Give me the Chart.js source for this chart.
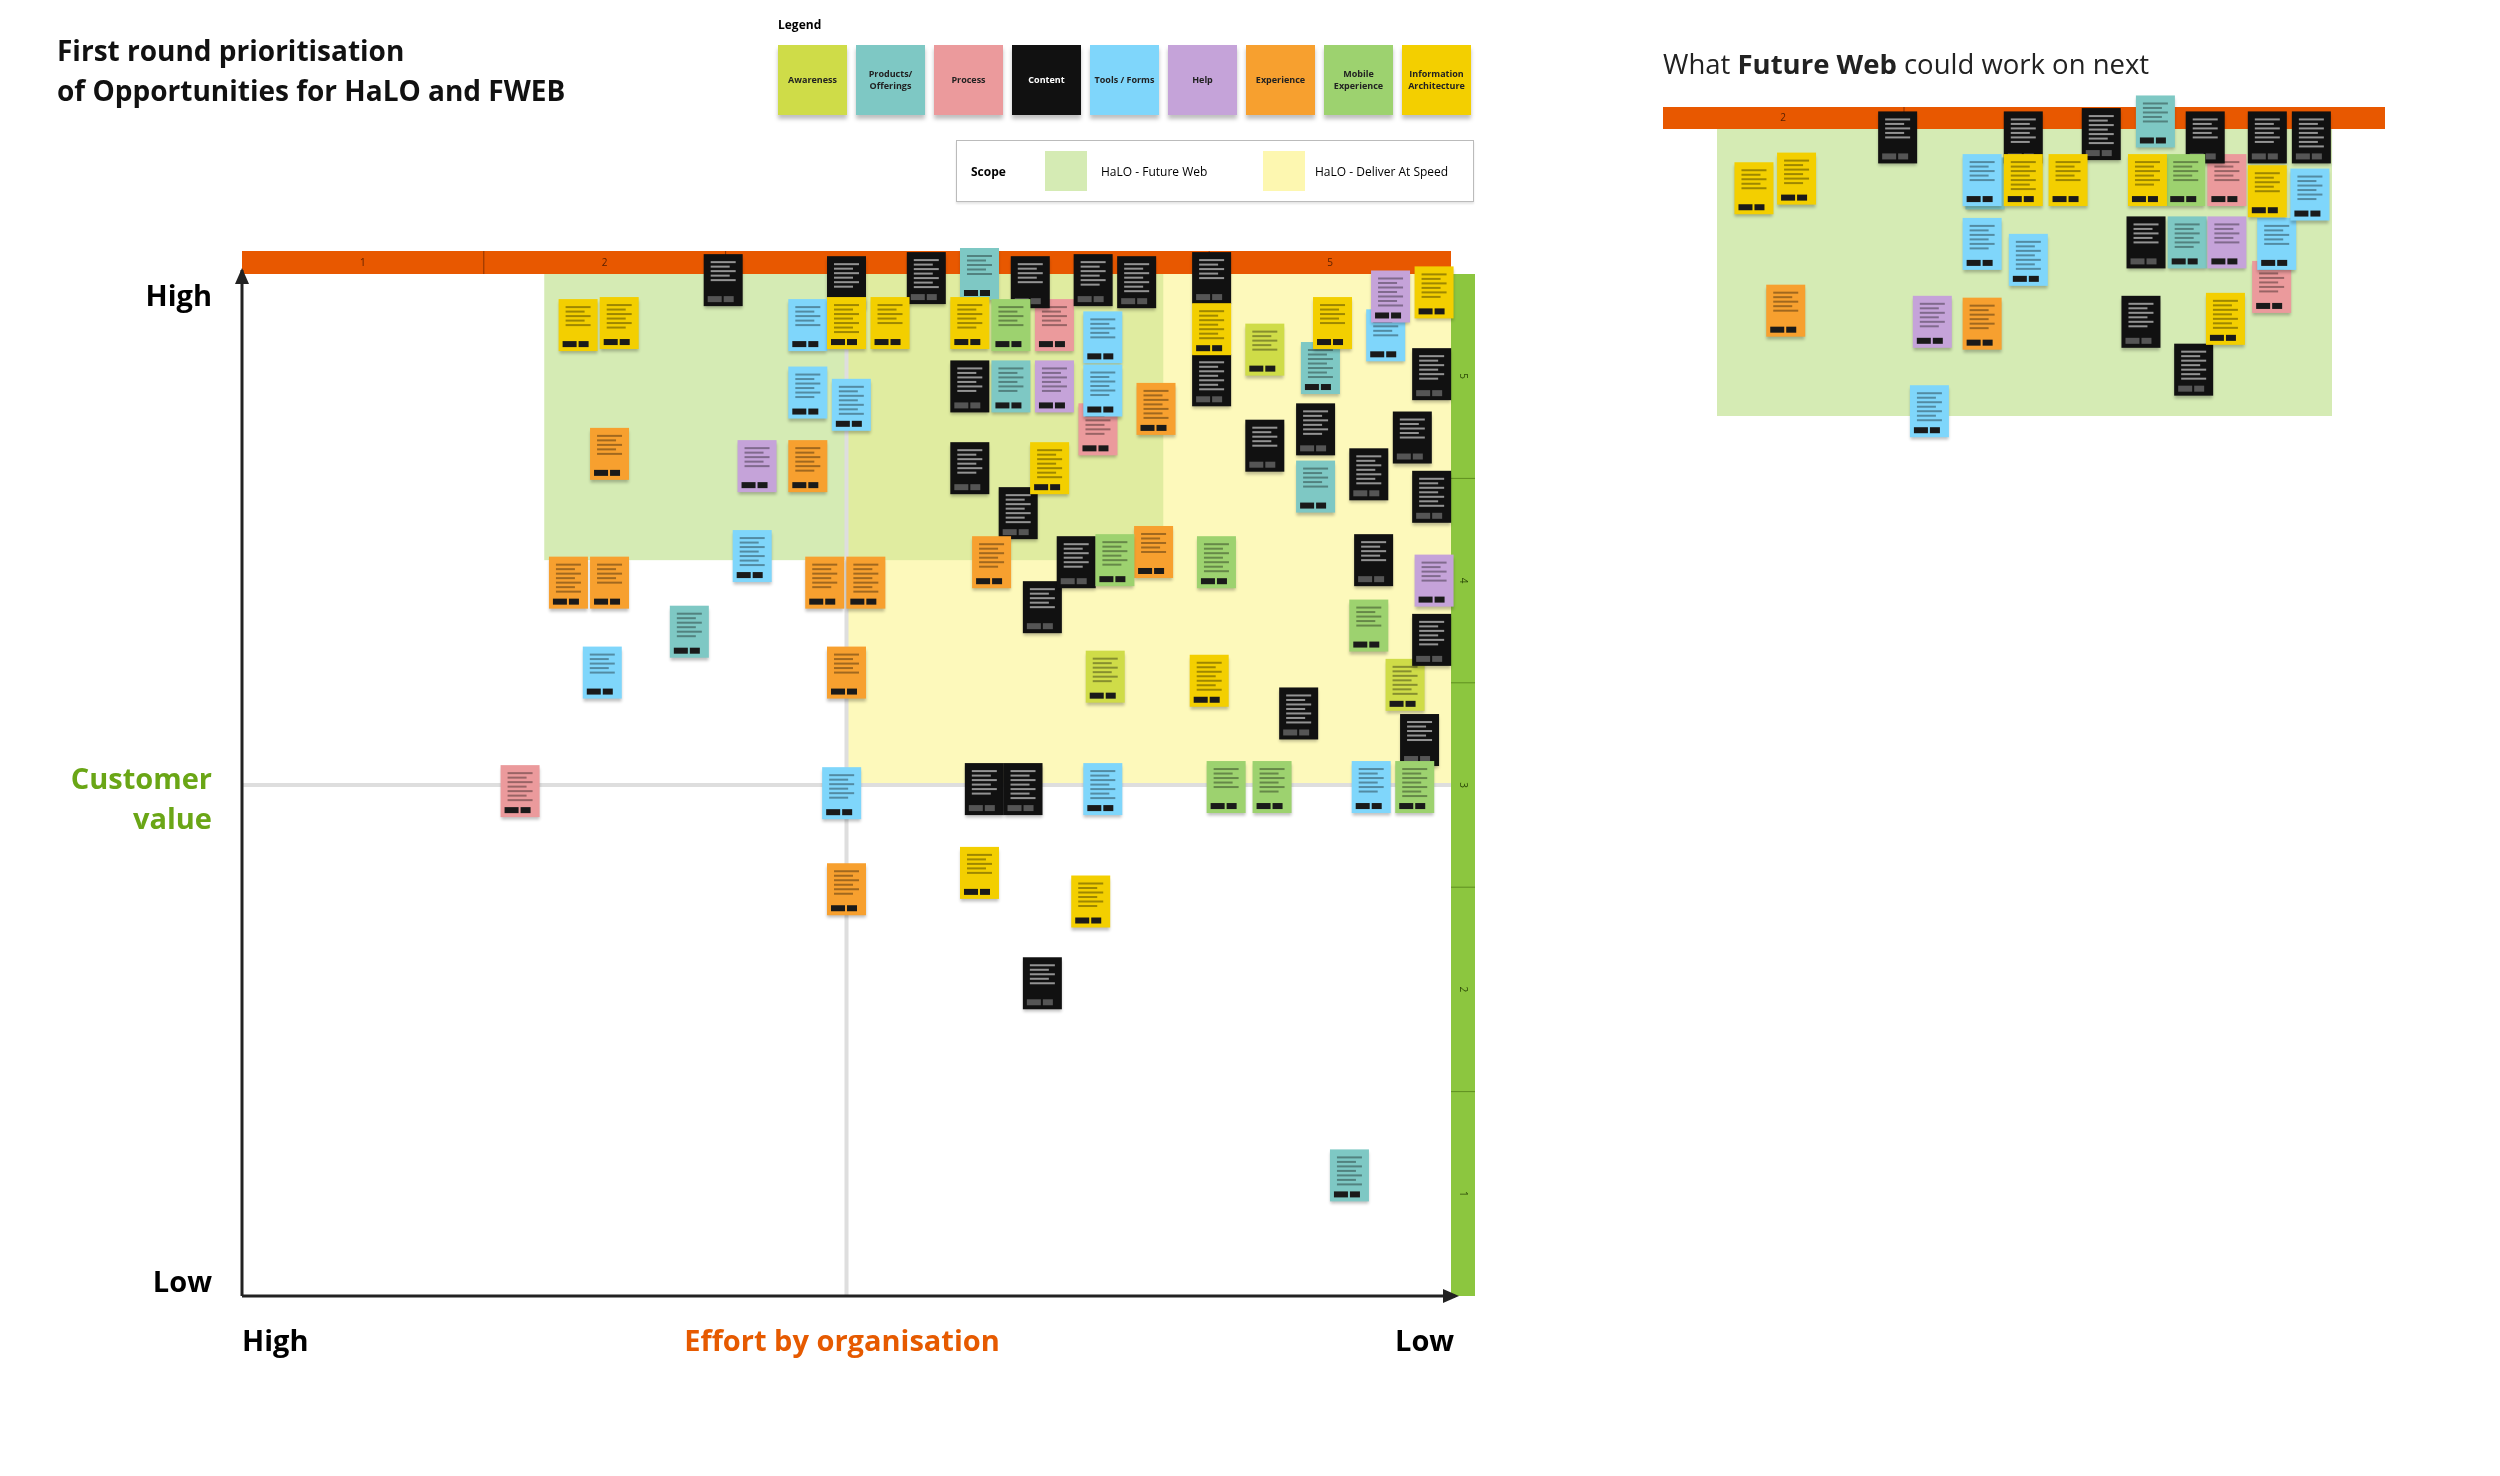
<!DOCTYPE html>
<html>
<head>
<meta charset="utf-8">
<script src="https://cdn.jsdelivr.net/npm/chart.js@4.4.1/dist/chart.umd.min.js"></script>
<style>
  body { margin: 0; background: #fff; font-family: "Open Sans", sans-serif; width: 2500px; height: 1476px; position: relative; overflow: hidden; }
  .abs { position: absolute; }
  #main { position: absolute; left: 0; top: 0; }
  #next { position: absolute; left: 1600px; top: 0; }
  .title { left: 57px; top: 30px; font-size: 28px; font-weight: 700; line-height: 40px; color: #111; }
  .sw { width: 69px; height: 70px; top: 45px; font-size: 9px; font-weight: 700; display: flex; align-items: center; justify-content: center; text-align: center; line-height: 12px; box-shadow: 0 4px 4px rgba(0,0,0,0.25); }
  .big { font-size: 29px; font-weight: 700; }
</style>
</head>
<body>
<canvas id="main" width="1600" height="1476"></canvas>
<canvas id="next" width="900" height="1476"></canvas>

<div class="abs title">First round prioritisation<br>of Opportunities for HaLO and FWEB</div>
<div class="abs" style="left:778px;top:16px;font-size:12px;font-weight:700;">Legend</div>
<div id="legend"></div>
<div class="abs" style="left:956px;top:140px;width:516px;height:60px;border:1px solid #bbb;box-shadow:0 2px 2px rgba(0,0,0,0.1);font-size:12px;">
  <span class="abs" style="left:14px;top:22px;font-weight:700;">Scope</span>
  <span class="abs" style="left:88px;top:10px;width:42px;height:40px;background:#d5ebb4;"></span>
  <span class="abs" style="left:144px;top:22px;">HaLO - Future Web</span>
  <span class="abs" style="left:306px;top:10px;width:42px;height:40px;background:#fdf7b0;"></span>
  <span class="abs" style="left:358px;top:22px;">HaLO - Deliver At Speed</span>
</div>

<div class="abs big" style="right:2288px;top:275px;">High</div>
<div class="abs big" style="right:2288px;top:758px;color:#6aa616;text-align:right;line-height:40px;">Customer<br>value</div>
<div class="abs big" style="right:2288px;top:1261px;">Low</div>
<div class="abs big" style="left:242px;top:1320px;">High</div>
<div class="abs big" style="left:842px;top:1320px;transform:translateX(-50%);color:#e65a00;white-space:nowrap;">Effort by organisation</div>
<div class="abs big" style="left:1395px;top:1320px;">Low</div>
<div class="abs" style="left:1663px;top:45px;font-size:27.5px;color:#222;">What <b>Future Web</b> could work on next</div>

<script>
// categories (legend order)
const categories = ['Awareness', 'Products/ Offerings', 'Process', 'Content', 'Tools / Forms', 'Help', 'Experience', 'Mobile Experience', 'Information Architecture'];
const catColors = ['#cfdc48', '#7ec8c4', '#eb9a9c', '#111111', '#7fd6fb', '#c5a3d9', '#f7a02f', '#9dd26f', '#f3cf00'];

// effort columns (top bar) and value rows (right bar)
const effortTicks = [1, 2, 3, 4, 5];
const valueTicks = [1, 2, 3, 4, 5];

// scope zones [xMin, xMax, yMin, yMax]
const futureWebZone = [1.75, 4.31, 4.1, 5.5];
const deliverZone = [3.0, 5.5, 3.0, 5.5];

// main board notes: [effort, value]
const awarenessNotes = [[4.73, 5.13], [4.07, 3.53], [5.31, 3.49]];
const productNotes = [[3.55, 5.5], [3.68, 4.95], [4.96, 5.04], [4.94, 4.46], [2.35, 3.75], [5.08, 1.09]];
const processNotes = [[3.86, 5.25], [4.04, 4.74], [1.65, 2.97]];
const contentNotes = [[2.49, 5.47], [3.00, 5.46], [3.33, 5.48], [3.76, 5.46], [4.02, 5.47], [4.20, 5.46], [4.51, 5.48],
  [3.51, 4.55], [3.71, 4.33], [3.81, 3.87], [3.95, 4.09], [4.51, 4.98], [4.73, 4.66], [4.94, 4.74], [5.16, 4.52],
  [5.34, 4.70], [5.42, 5.01], [5.42, 4.41], [5.18, 4.10], [5.42, 3.71], [4.87, 3.35], [5.37, 3.22], [3.57, 2.98],
  [3.73, 2.98], [3.81, 2.03], [3.51, 4.95]];
const toolNotes = [[2.84, 5.25], [2.84, 4.92], [3.02, 4.86], [4.06, 5.19], [4.06, 4.93], [2.61, 4.12], [1.99, 3.55],
  [2.98, 2.96], [4.06, 2.98], [5.23, 5.20], [5.17, 2.99]];
const helpNotes = [[2.63, 4.56], [3.86, 4.95], [5.25, 5.39], [5.43, 4.0]];
const experienceNotes = [[2.02, 4.62], [2.84, 4.56], [4.28, 4.84], [4.27, 4.14], [3.60, 4.09], [1.85, 3.99], [2.02, 3.99],
  [2.91, 3.99], [3.08, 3.99], [3.00, 3.55], [3.00, 2.49]];
const mobileNotes = [[3.68, 5.25], [4.11, 4.10], [4.53, 4.09], [4.57, 2.99], [4.76, 2.99], [5.35, 2.99], [5.16, 3.78]];
const iaNotes = [[1.89, 5.25], [2.06, 5.26], [3.00, 5.26], [3.18, 5.26], [3.51, 5.26], [4.51, 5.23], [5.01, 5.26],
  [5.43, 5.41], [3.84, 4.55], [3.55, 2.57], [4.01, 2.43], [4.50, 3.51]];

// "what Future Web could work on next" board: [x %, y %]
const nextIa = [[12.6, 21.9], [18.5, 19.3], [49.9, 19.7], [56.1, 19.7], [67.1, 19.7], [77.9, 57.1], [83.7, 22.7]];
const nextContent = [[32.5, 8.2], [49.9, 8.2], [60.7, 7.3], [75.1, 8.2], [83.7, 8.2], [89.8, 8.2], [66.9, 36.5], [66.2, 57.9], [73.5, 70.8]];
const nextProducts = [[68.2, 3.9], [72.6, 36.5], [44.6, 20.6]];
const nextTools = [[44.2, 19.7], [44.2, 36.9], [50.6, 41.2], [85.0, 36.9], [89.6, 23.6], [36.9, 82.0]];
const nextProcess = [[78.1, 19.7], [84.3, 48.5]];
const nextHelp = [[78.1, 36.5], [37.3, 57.9]];
const nextExperience = [[17.0, 54.9], [44.2, 58.4]];
const nextMobile = [[72.4, 19.7]];

const legend = document.getElementById('legend');
categories.forEach((c, i) => {
  const d = document.createElement('div');
  d.className = 'abs sw';
  d.style.left = (778 + i * 78) + 'px';
  d.style.background = catColors[i];
  d.style.color = i === 3 ? '#fff' : '#222';
  d.textContent = c;
  legend.appendChild(d);
});

function mkSet(arr, ci) {
  return { label: categories[ci], data: arr.map(p => ({ x: p[0], y: p[1] })), backgroundColor: catColors[ci], pointRadius: 0, pointHoverRadius: 0 };
}

// draws each point as a sticky note
const notePlugin = {
  id: 'notes',
  afterDatasetsDraw(chart) {
    const ctx = chart.ctx;
    chart.data.datasets.forEach((ds, i) => {
      chart.getDatasetMeta(i).data.forEach((pt, j) => {
        const w = 39, h = 52, x = pt.x - w / 2, y = pt.y - h / 2;
        ctx.save();
        ctx.shadowColor = 'rgba(0,0,0,0.25)';
        ctx.shadowOffsetY = 3;
        ctx.shadowBlur = 3;
        ctx.fillStyle = ds.backgroundColor;
        ctx.fillRect(x, y, w, h);
        ctx.restore();
        const dark = ds.backgroundColor === '#111111';
        ctx.fillStyle = dark ? 'rgba(255,255,255,0.55)' : 'rgba(0,0,0,0.35)';
        const n = 5 + (j % 3);
        for (let k = 0; k < n; k++) ctx.fillRect(x + 7, y + 7 + k * 4.5, w - 14 - (k % 2) * 6, 2);
        ctx.fillStyle = dark ? '#555' : '#1a1a1a';
        ctx.fillRect(x + 4, y + h - 10, 14, 6);
        ctx.fillRect(x + 20, y + h - 10, 10, 6);
      });
    });
  }
};

const boardPlugin = {
  id: 'board',
  beforeDatasetsDraw(chart) {
    const { ctx, chartArea: a, scales: { x, y } } = chart;
    const zone = (z, col) => {
      ctx.fillStyle = col;
      ctx.fillRect(x.getPixelForValue(z[0]), y.getPixelForValue(z[3]),
        x.getPixelForValue(z[1]) - x.getPixelForValue(z[0]), y.getPixelForValue(z[2]) - y.getPixelForValue(z[3]));
    };
    zone(futureWebZone, '#d5ebb4');
    zone(deliverZone, '#fdf9bb');
    zone([deliverZone[0], futureWebZone[1], futureWebZone[2], futureWebZone[3]], '#e0eca0');
    // centre lines
    ctx.fillStyle = '#dedede';
    ctx.fillRect(x.getPixelForValue(3) - 2, a.top, 4, a.bottom - a.top);
    ctx.fillRect(a.left, y.getPixelForValue(3) - 2, a.right - a.left, 4);
    // top effort bar
    ctx.fillStyle = '#e85800';
    ctx.fillRect(a.left, a.top - 23, a.right - a.left, 23);
    ctx.strokeStyle = '#8a3300';
    ctx.lineWidth = 1;
    ctx.font = '10px "Open Sans"';
    ctx.textAlign = 'center';
    ctx.textBaseline = 'middle';
    effortTicks.forEach(t => {
      const px = x.getPixelForValue(t);
      ctx.fillStyle = '#5a2000';
      ctx.fillText(String(t), px, a.top - 11);
      if (t < 5) {
        ctx.beginPath();
        ctx.moveTo(x.getPixelForValue(t + 0.5), a.top - 23);
        ctx.lineTo(x.getPixelForValue(t + 0.5), a.top);
        ctx.stroke();
      }
    });
    // right value bar
    ctx.fillStyle = '#8cc63f';
    ctx.fillRect(a.right, a.top, 24, a.bottom - a.top);
    ctx.strokeStyle = '#5f8f20';
    valueTicks.forEach(t => {
      const py = y.getPixelForValue(t);
      ctx.save();
      ctx.translate(a.right + 12, py);
      ctx.rotate(Math.PI / 2);
      ctx.fillStyle = '#2d4a08';
      ctx.fillText(String(t), 0, 0);
      ctx.restore();
      if (t < 5) {
        ctx.beginPath();
        ctx.moveTo(a.right, y.getPixelForValue(t + 0.5));
        ctx.lineTo(a.right + 24, y.getPixelForValue(t + 0.5));
        ctx.stroke();
      }
    });
  },
  afterDraw(chart) {
    const { ctx, chartArea: a } = chart;
    ctx.strokeStyle = '#222';
    ctx.fillStyle = '#222';
    ctx.lineWidth = 3;
    ctx.beginPath();
    ctx.moveTo(a.left, a.bottom);
    ctx.lineTo(a.left, a.top - 4);
    ctx.moveTo(a.left, a.bottom);
    ctx.lineTo(a.right + 4, a.bottom);
    ctx.stroke();
    ctx.beginPath();
    ctx.moveTo(a.left - 7, a.top + 10); ctx.lineTo(a.left, a.top - 6); ctx.lineTo(a.left + 7, a.top + 10); ctx.fill();
    ctx.beginPath();
    ctx.moveTo(a.right - 8, a.bottom - 7); ctx.lineTo(a.right + 8, a.bottom); ctx.lineTo(a.right - 8, a.bottom + 7); ctx.fill();
  }
};

const hidden = { display: false };
new Chart(document.getElementById('main'), {
  type: 'scatter',
  data: { datasets: [mkSet(awarenessNotes, 0), mkSet(productNotes, 1), mkSet(processNotes, 2), mkSet(contentNotes, 3),
    mkSet(toolNotes, 4), mkSet(helpNotes, 5), mkSet(experienceNotes, 6), mkSet(mobileNotes, 7), mkSet(iaNotes, 8)] },
  options: {
    responsive: false, animation: false, devicePixelRatio: 1,
    layout: { padding: { left: 242, right: 149, top: 274, bottom: 180 } },
    scales: { x: { min: 0.5, max: 5.5, ...hidden }, y: { min: 0.5, max: 5.5, ...hidden } },
    plugins: { legend: hidden, tooltip: { enabled: false } }
  },
  plugins: [boardPlugin, notePlugin]
});

const nextBoard = {
  id: 'nextBoard',
  beforeDatasetsDraw(chart) {
    const { ctx, chartArea: a } = chart;
    ctx.fillStyle = '#e85800';
    ctx.fillRect(a.left, a.top, a.right - a.left, 22);
    ctx.strokeStyle = '#8a3300';
    ctx.beginPath();
    ctx.moveTo(a.left + 241, a.top); ctx.lineTo(a.left + 241, a.top + 22);
    ctx.moveTo(a.left + 482, a.top); ctx.lineTo(a.left + 482, a.top + 22);
    ctx.stroke();
    ctx.fillStyle = '#5a2000';
    ctx.font = '10px "Open Sans"';
    ctx.textAlign = 'center';
    ctx.textBaseline = 'middle';
    ctx.fillText('2', a.left + 120, a.top + 11);
    ctx.fillStyle = '#d5ebb4';
    ctx.fillRect(a.left + 54, a.top + 22, 615, 287);
  }
};

new Chart(document.getElementById('next'), {
  type: 'scatter',
  data: { datasets: [mkSet(nextProducts, 1), mkSet(nextProcess, 2), mkSet(nextContent, 3), mkSet(nextTools, 4),
    mkSet(nextHelp, 5), mkSet(nextExperience, 6), mkSet(nextMobile, 7), mkSet(nextIa, 8)] },
  options: {
    responsive: false, animation: false, devicePixelRatio: 1,
    layout: { padding: { left: 63, right: 115, top: 107, bottom: 998 } },
    scales: { x: { min: 0, max: 100, ...hidden }, y: { min: 0, max: 100, reverse: true, ...hidden } },
    plugins: { legend: hidden, tooltip: { enabled: false } }
  },
  plugins: [nextBoard, notePlugin]
});
</script>
</body>
</html>
